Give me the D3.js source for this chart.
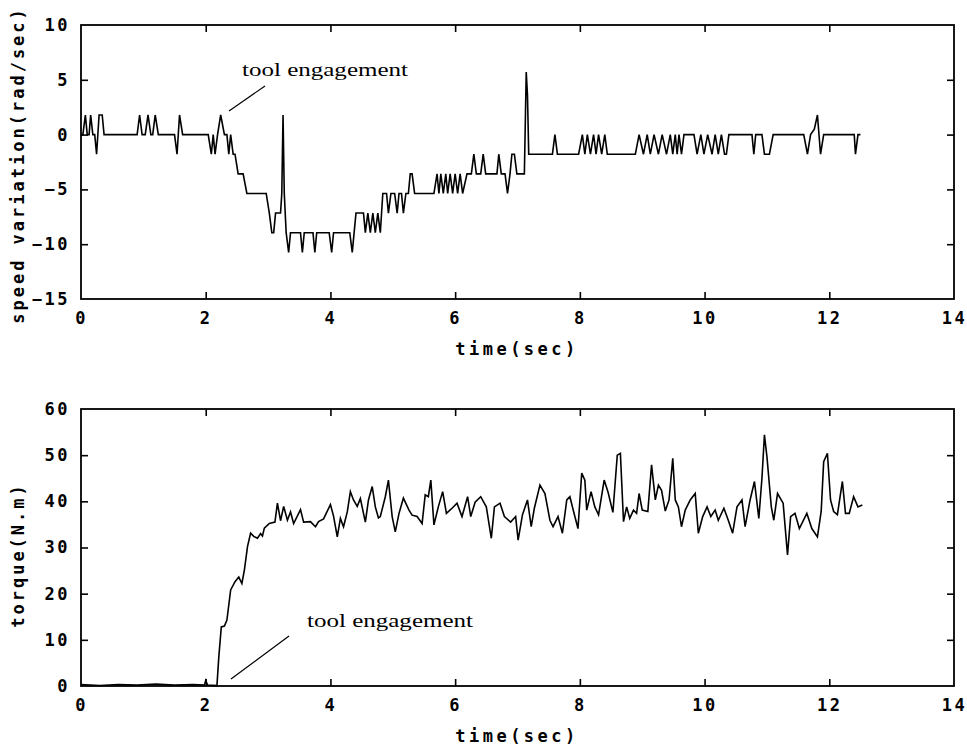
<!DOCTYPE html>
<html>
<head>
<meta charset="utf-8">
<script src="https://cdn.jsdelivr.net/npm/d3@7"></script>
<style>
  body { margin: 0; background: #fff; }
  .lbl { font-family: "DejaVu Sans Mono", monospace; font-weight: bold; font-size: 17px; letter-spacing: 3.5px; fill: #000; }
  .ylbl { letter-spacing: 3px; }
  .tick text { font-family: "DejaVu Sans Mono", monospace; font-weight: bold; font-size: 17px; letter-spacing: 2.5px; fill: #000; }
  .note { font-family: "Liberation Serif", "DejaVu Serif", serif; font-size: 19px; fill: #000; }
</style>
</head>
<body>
<div class="chart"></div>
<script>
// Width and height
var widthSVG = 967;
var heightSVG = 749;

// Speed variation (rad/sec) vs time (sec)
var speedT = [0, 0.03, 0.07, 0.10, 0.13, 0.155, 0.19, 0.22, 0.25, 0.29, 0.34, 0.37,
  0.90, 0.94, 0.98, 1.03, 1.075, 1.12, 1.15, 1.19, 1.24, 1.50, 1.54, 1.58, 1.63,
  2.04, 2.09, 2.12, 2.15, 2.19, 2.24, 2.30, 2.34, 2.37, 2.40, 2.44, 2.47, 2.52, 2.60, 2.66,
  2.97, 3.02, 3.06, 3.09, 3.12, 3.20, 3.22, 3.24, 3.26, 3.29, 3.33, 3.36,
  3.52, 3.55, 3.58, 3.72, 3.75, 3.78, 3.98, 4.02, 4.05, 4.31, 4.35, 4.38, 4.41,
  4.53, 4.56, 4.60, 4.64, 4.68, 4.72, 4.76, 4.80, 4.84, 4.90, 4.93, 4.97, 5.03, 5.07, 5.10,
  5.14, 5.17, 5.21, 5.25, 5.28, 5.31, 5.35, 5.66, 5.71, 5.74, 5.77, 5.81, 5.85, 5.88, 5.92,
  5.96, 6.00, 6.04, 6.08, 6.12, 6.19, 6.26, 6.30, 6.34, 6.41, 6.45, 6.49, 6.67, 6.70, 6.74,
  6.80, 6.84, 6.88, 6.91, 6.95, 6.99, 7.11, 7.14, 7.16, 7.18, 7.56, 7.60, 7.64, 7.98,
  8.04, 8.08, 8.12, 8.17, 8.22, 8.26, 8.30, 8.35, 8.40, 8.44, 8.89, 8.95, 9.02, 9.08,
  9.13, 9.19, 9.26, 9.32, 9.39, 9.45, 9.49, 9.53, 9.56, 9.59, 9.63, 9.67, 9.83, 9.88,
  9.94, 9.99, 10.05, 10.12, 10.17, 10.22, 10.27, 10.32, 10.35, 10.39, 10.76, 10.79, 10.82,
  10.92, 10.96, 11.04, 11.10, 11.59, 11.65, 11.70, 11.76, 11.81, 11.86, 11.91, 12.40,
  12.42, 12.46, 12.5];
var speedV = [0, 0, 1.79, 0, 0, 1.79, 0, 0, -1.79, 1.79, 1.79, 0,
  0, 1.79, 0, 0, 1.79, 0, 0, 1.79, 0, 0, -1.79, 1.79, 0,
  0, -1.79, 0, -1.79, 0, 1.79, 0, 0, -1.79, 0, -1.79, -1.79, -3.58, -3.58, -5.37,
  -5.37, -7.16, -8.95, -8.95, -7.16, -7.16, -5.37, 1.79, -5.37, -8.95, -10.74, -8.95,
  -8.95, -10.74, -8.95, -8.95, -10.74, -8.95, -8.95, -10.74, -8.95, -8.95, -10.74, -8.95, -7.16,
  -7.16, -8.95, -7.16, -8.95, -7.16, -8.95, -7.16, -8.95, -5.37, -5.37, -7.16, -5.37, -5.37, -7.16, -5.37,
  -5.37, -7.16, -5.37, -5.37, -3.58, -3.58, -5.37, -5.37, -3.58, -5.37, -3.58, -5.37, -3.58, -5.37, -3.58,
  -5.37, -3.58, -5.37, -3.58, -5.37, -3.58, -3.58, -1.79, -3.58, -3.58, -1.79, -3.58, -3.58, -1.79, -3.58,
  -3.58, -5.37, -3.58, -1.79, -1.79, -3.58, -3.58, 5.7, 3.6, -1.79, -1.79, 0, -1.79, -1.79,
  0, -1.79, 0, -1.79, 0, -1.79, 0, -1.79, 0, -1.79, -1.79, 0, -1.79, 0,
  -1.79, 0, -1.79, 0, -1.79, 0, -1.79, 0, -1.79, 0, -1.79, 0, 0, -1.79,
  0, -1.79, 0, -1.79, 0, -1.79, 0, -1.79, -1.79, 0, 0, -1.79, 0,
  0, -1.79, -1.79, 0, 0, -1.79, 0, 0.5, 1.79, -1.79, 0, 0,
  -1.79, 0, 0];

// Torque (N.m) vs time (sec)
var torqueT = [0, 0.3, 0.6, 0.9, 1.2, 1.5, 1.8, 1.98, 2.00, 2.03, 2.18, 2.21, 2.25, 2.30, 2.34,
  2.40, 2.47, 2.53, 2.58, 2.62, 2.67, 2.72, 2.77, 2.83, 2.88, 2.91, 2.94, 3.02, 3.11, 3.15,
  3.20, 3.25, 3.31, 3.36, 3.41, 3.52, 3.57, 3.68, 3.76, 3.81, 3.89, 4.00, 4.05, 4.11, 4.16,
  4.21, 4.27, 4.32, 4.37, 4.43, 4.48, 4.56, 4.61, 4.67, 4.72, 4.77, 4.80, 4.88, 4.93, 4.99,
  5.04, 5.10, 5.17, 5.26, 5.31, 5.39, 5.47, 5.52, 5.57, 5.61, 5.66, 5.73, 5.80, 5.86, 5.95,
  6.03, 6.11, 6.20, 6.25, 6.32, 6.41, 6.50, 6.58, 6.63, 6.72, 6.79, 6.89, 6.97, 7.01, 7.08,
  7.16, 7.22, 7.27, 7.36, 7.44, 7.52, 7.57, 7.65, 7.72, 7.79, 7.84, 7.92, 7.97, 8.03, 8.08,
  8.11, 8.18, 8.24, 8.30, 8.39, 8.45, 8.53, 8.60, 8.65, 8.70, 8.75, 8.80, 8.86, 8.91, 8.95,
  9.00, 9.09, 9.15, 9.21, 9.26, 9.31, 9.37, 9.43, 9.49, 9.53, 9.58, 9.63, 9.69, 9.77, 9.85,
  9.90, 9.97, 10.04, 10.10, 10.17, 10.22, 10.31, 10.38, 10.45, 10.52, 10.60, 10.65, 10.73, 10.80, 10.87,
  10.92, 10.96, 11.00, 11.07, 11.11, 11.17, 11.26, 11.31, 11.33, 11.38, 11.45, 11.52, 11.64, 11.72, 11.81,
  11.87, 11.91, 11.97, 12.02, 12.07, 12.13, 12.21, 12.26, 12.32, 12.39, 12.46, 12.53];
var torqueV = [0.3, 0.1, 0.3, 0.2, 0.4, 0.2, 0.3, 0.2, 1.2, 0.2, 0.1, 6.3, 12.8, 13, 14.3,
  20.8, 22.6, 23.6, 22.2, 25.1, 30.2, 33.1, 32.4, 32, 33, 32.5, 34.2, 35.2, 35.5, 39.6,
  35.8, 38.9, 35.9, 37.7, 35.2, 38.2, 35.5, 35.6, 34.5, 35.6, 36.2, 39.3, 36.8, 32.3, 36.3,
  34.5, 37.7, 42.1, 40.3, 38.9, 40.6, 35.5, 40.3, 43.2, 38.8, 36.4, 36.7, 41, 44.6, 36.7,
  33.4, 37.4, 40.7, 38.1, 37, 36.7, 35.2, 41.4, 41, 44.6, 34.9, 38.8, 42.1, 37.4, 38.5,
  39.6, 36.7, 41, 36.7, 39.8, 41, 38.8, 32, 38.8, 39.6, 36.7, 35.5, 36.7, 31.6, 37.1,
  40.3, 34.5, 38.5, 43.5, 41.7, 35.9, 34.5, 36.7, 33.1, 40.3, 41, 36.7, 34.1, 46.1, 44.6,
  38.1, 42.1, 38.8, 37.1, 44.6, 42.1, 37.6, 50, 50.4, 35.6, 38.8, 36.3, 38.1, 37.4, 41.7,
  38.1, 37.8, 47.9, 40.3, 43.5, 42.4, 37.9, 40.3, 49.3, 40.3, 38.8, 34.5, 38.1, 40.3, 41.7,
  33.1, 36.7, 38.8, 36.7, 38.1, 35.9, 38.5, 35.9, 33.1, 38.8, 40.3, 34.5, 40.3, 44.3, 36.3,
  45, 54.4, 49.7, 38.8, 35.9, 41.7, 39.6, 31.6, 28.4, 36.7, 37.4, 34.1, 37.4, 34.1, 32.3,
  37.8, 48.6, 50.4, 40.3, 37.8, 37.1, 44.3, 37.4, 37.4, 41, 38.8, 39.2];

// Axis ticks
var xTicks = [0, 2, 4, 6, 8, 10, 12, 14];
var speedTicks = [10, 5, 0, -5, -10, -15];
var torqueTicks = [60, 50, 40, 30, 20, 10, 0];

var svg = d3.select(".chart")
  .append("svg")
  .attr("width", widthSVG)
  .attr("height", heightSVG);

function panel(opt) {
  var x = d3.scaleLinear().domain([0, 14]).range([81, 954]);
  var y = d3.scaleLinear().domain(opt.domain).range([opt.bottom, opt.top]);
  var g = svg.append("g");
  var inner = xTicks.slice(1, -1);
  var innerY = opt.ticks.slice(1, -1);

  // bottom axis with labels, ticks pointing inward
  g.append("g")
    .attr("transform", "translate(0," + opt.bottom + ")")
    .call(d3.axisBottom(x).tickValues(xTicks).tickSize(-7).tickPadding(13).tickFormat(d3.format("d")))
    .call(function(a) { a.select(".domain").remove(); a.selectAll("line").filter(function(d) { return d == 0 || d == 14; }).remove(); });
  // left axis
  g.append("g")
    .attr("transform", "translate(81,0)")
    .call(d3.axisLeft(y).tickValues(opt.ticks).tickSize(-7).tickPadding(11).tickFormat(d3.format("d")))
    .call(function(a) { a.select(".domain").remove(); a.selectAll("line").filter(function(d) { return innerY.indexOf(d) < 0; }).remove(); });
  // top and right ticks, no labels
  g.append("g")
    .attr("transform", "translate(0," + opt.top + ")")
    .call(d3.axisTop(x).tickValues(inner).tickSize(-7).tickFormat(""))
    .call(function(a) { a.select(".domain").remove(); });
  g.append("g")
    .attr("transform", "translate(954,0)")
    .call(d3.axisRight(y).tickValues(innerY).tickSize(-7).tickFormat(""))
    .call(function(a) { a.select(".domain").remove(); });
  g.selectAll(".tick line").attr("stroke", "#000").attr("stroke-width", 1.6);

  // frame
  g.append("rect")
    .attr("x", 81).attr("y", opt.top)
    .attr("width", 954 - 81).attr("height", opt.bottom - opt.top)
    .attr("fill", "none").attr("stroke", "#000").attr("stroke-width", 1.8);

  // data line
  var line = d3.line()
    .x(function(d, i) { return x(opt.t[i]); })
    .y(function(d) { return y(d); });
  g.append("path")
    .datum(opt.v)
    .attr("d", line)
    .attr("fill", "none")
    .attr("stroke", "#000")
    .attr("stroke-width", 1.6);

  // axis titles
  g.append("text").attr("class", "lbl")
    .attr("x", 517).attr("y", opt.bottom + 56)
    .attr("text-anchor", "middle")
    .text("time(sec)");
  g.append("text").attr("class", "lbl ylbl")
    .attr("transform", "translate(24," + opt.ymid + ") rotate(-90)")
    .attr("text-anchor", "middle")
    .text(opt.ylabel);

  // annotation
  g.append("line")
    .attr("x1", opt.note[0]).attr("y1", opt.note[1])
    .attr("x2", opt.note[2]).attr("y2", opt.note[3])
    .attr("stroke", "#000").attr("stroke-width", 1.2);
  g.append("text").attr("class", "note")
    .attr("x", opt.note[4]).attr("y", opt.note[5])
    .attr("textLength", 166).attr("lengthAdjust", "spacingAndGlyphs")
    .text("tool engagement");
}

panel({ t: speedT, v: speedV, domain: [-15, 10], ticks: speedTicks, top: 25, bottom: 299,
  ymid: 165, ylabel: "speed variation(rad/sec)", note: [229, 111, 265, 86, 242, 76] });
panel({ t: torqueT, v: torqueV, domain: [0, 60], ticks: torqueTicks, top: 409, bottom: 686,
  ymid: 555, ylabel: "torque(N.m)", note: [231, 679, 289, 636, 307, 627] });
</script>
</body>
</html>
